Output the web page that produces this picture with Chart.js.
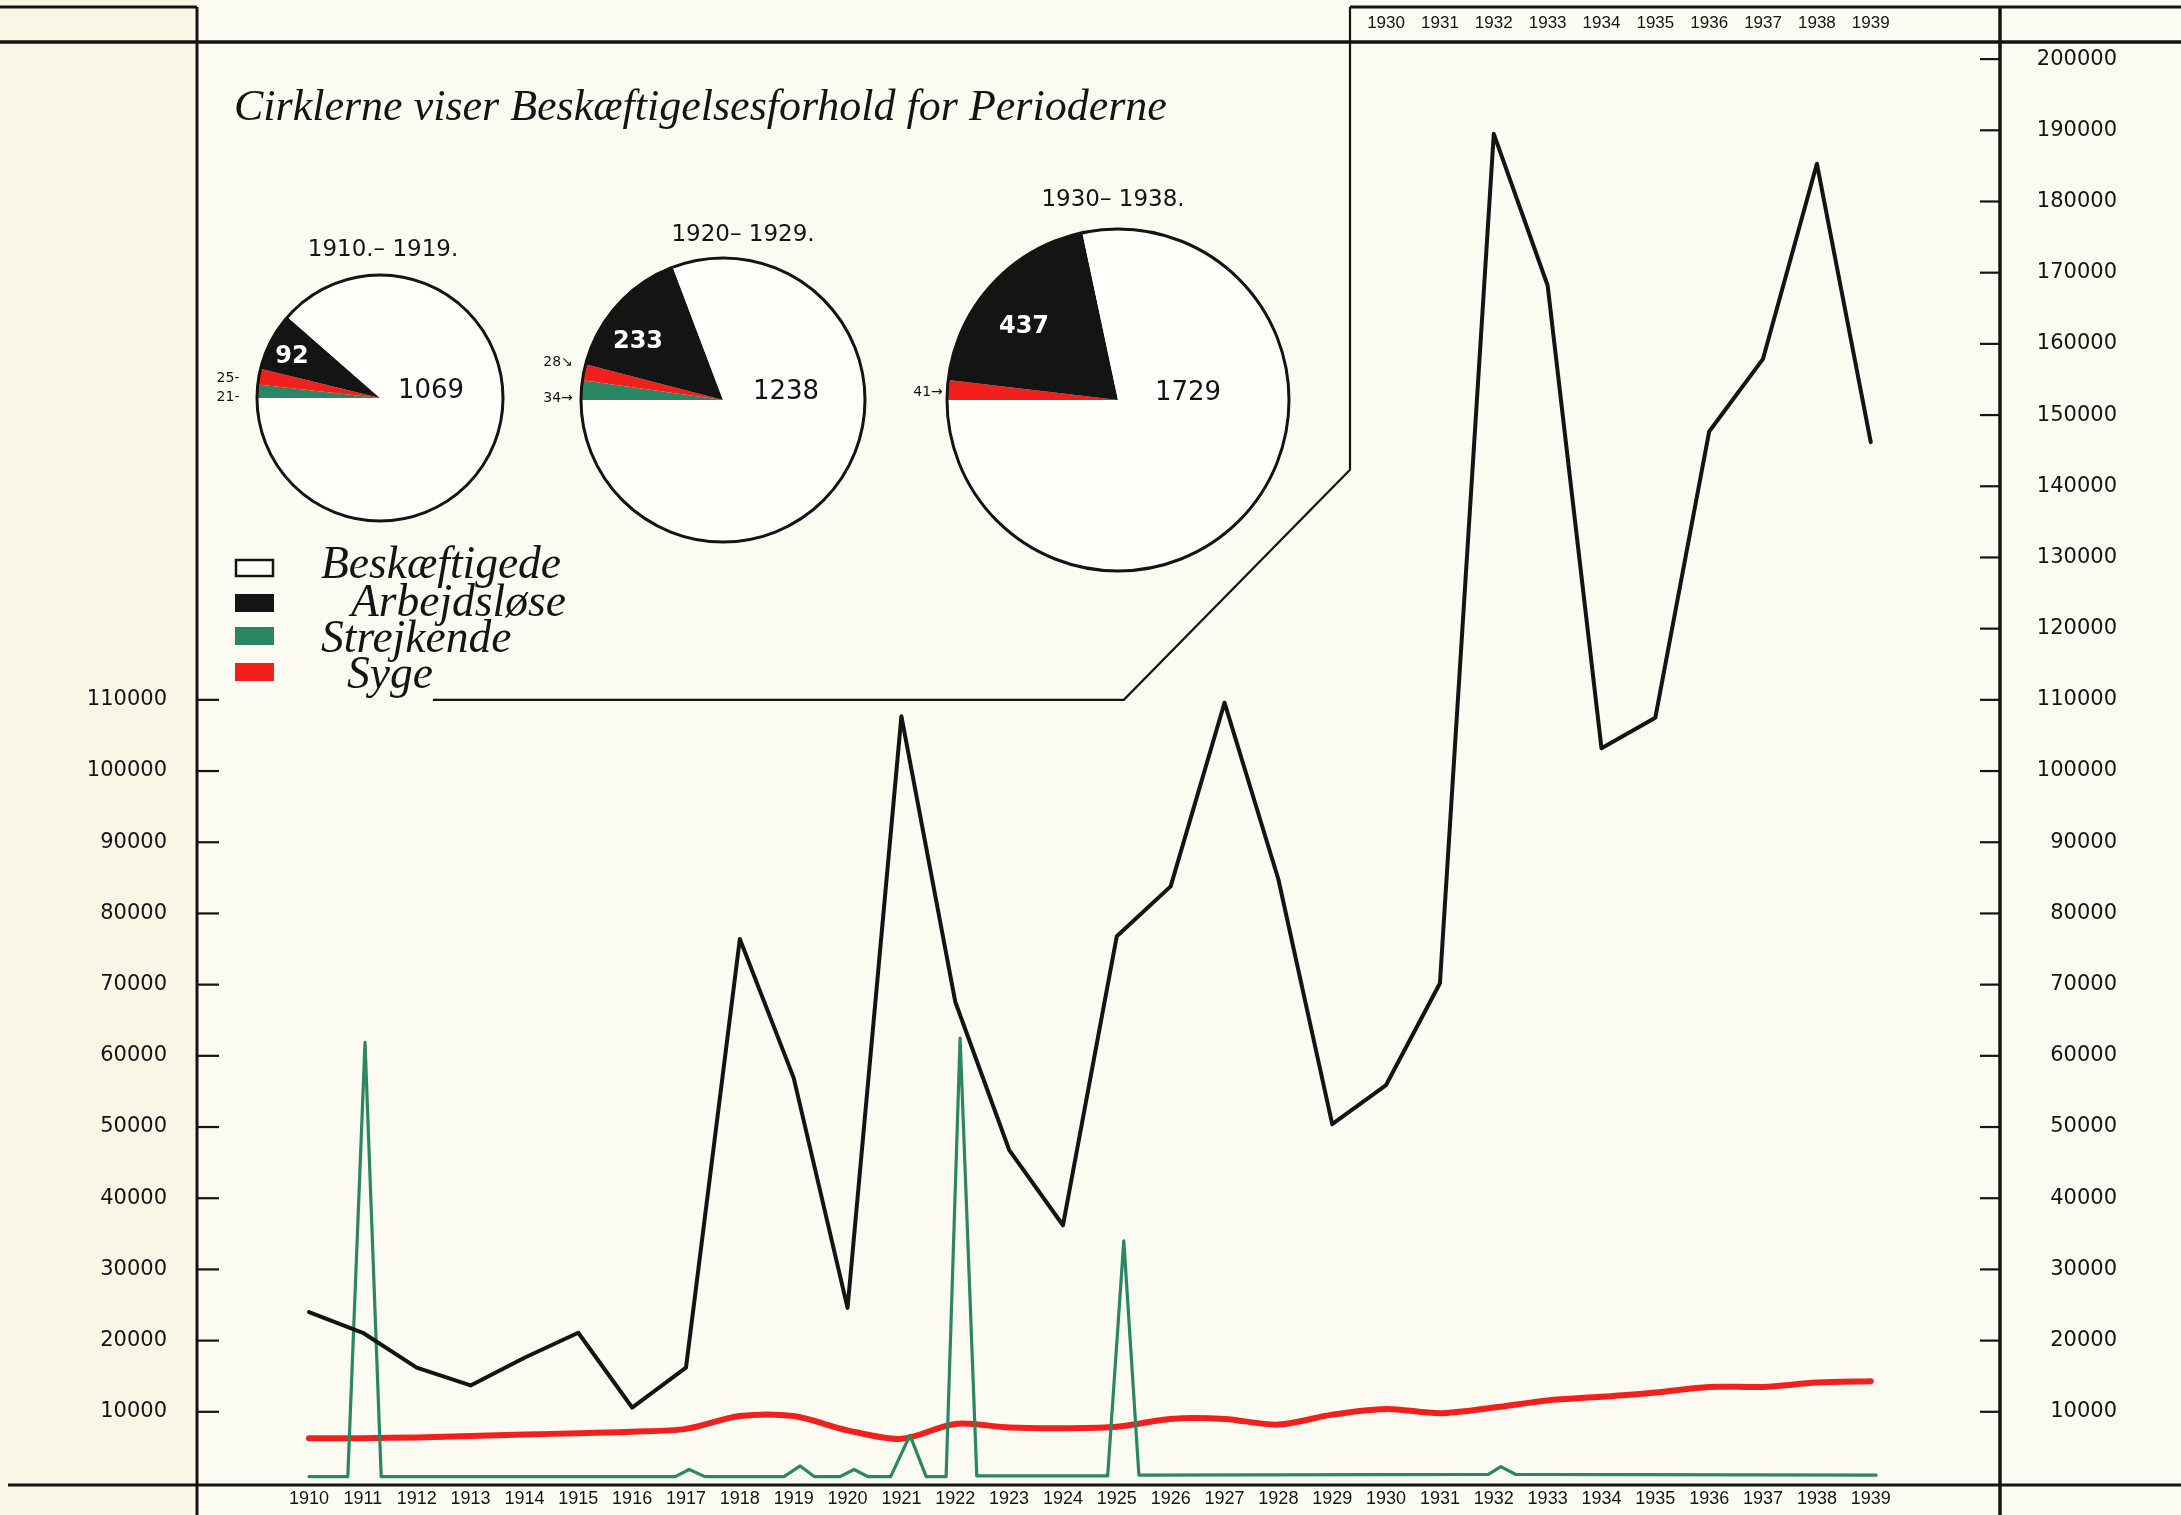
<!DOCTYPE html>
<html>
<head>
<meta charset="utf-8">
<script src="https://cdn.jsdelivr.net/npm/chart.js@4.4.1/dist/chart.umd.min.js"></script>
<style>
  html, body { margin: 0; padding: 0; background: #fcfbf1; }
  #wrap { position: relative; width: 2181px; height: 1515px; overflow: hidden; }
  #wrap canvas { position: absolute; }
</style>
</head>
<body>
<div id="wrap">
  <canvas id="main" width="2181" height="1515" style="left:0;top:0"></canvas>
  <canvas id="pie0"></canvas>
  <canvas id="pie1"></canvas>
  <canvas id="pie2"></canvas>
</div>
<script>
// yearly series
const years = [1910, 1911, 1912, 1913, 1914, 1915, 1916, 1917, 1918, 1919,
               1920, 1921, 1922, 1923, 1924, 1925, 1926, 1927, 1928, 1929,
               1930, 1931, 1932, 1933, 1934, 1935, 1936, 1937, 1938, 1939];
const arbejdslose = [24000, 21100, 16200, 13700, 17600, 21100, 10600, 16200, 76400, 56900,
                     24600, 107700, 67600, 46800, 36200, 76800, 83800, 109600, 84800, 50400,
                     55900, 70200, 189500, 168200, 103200, 107500, 147700, 157900, 185300, 146200];
const syge = [6300, 6300, 6400, 6600, 6800, 7000, 7200, 7600, 9400, 9400,
              7400, 6200, 8300, 7800, 7700, 7900, 9000, 9000, 8200, 9600,
              10400, 9800, 10600, 11600, 12100, 12700, 13500, 13500, 14100, 14300];

// strikers: flat line with narrow spikes, so it has its own x values
const strejkendeYears = [1910, 1910.72, 1911.04, 1911.34, 1916.8, 1917.06, 1917.35, 1918.82, 1919.12, 1919.38,
                         1919.86, 1920.12, 1920.38, 1920.8, 1921.16, 1921.46, 1921.83, 1922.09, 1922.4, 1924.83,
                         1925.13, 1925.41, 1931.9, 1932.13, 1932.41, 1939.1];
const strejkende = [900, 900, 61900, 900, 900, 1900, 900, 900, 2400, 900,
                    900, 1900, 900, 900, 6700, 900, 900, 62500, 1000, 1000,
                    34000, 1100, 1200, 2300, 1200, 1100];

const leftTicks = [10000, 20000, 30000, 40000, 50000, 60000, 70000, 80000, 90000, 100000, 110000];
const rightTicks = [10000, 20000, 30000, 40000, 50000, 60000, 70000, 80000, 90000, 100000,
                    110000, 120000, 130000, 140000, 150000, 160000, 170000, 180000, 190000, 200000];
const topYears = [1930, 1931, 1932, 1933, 1934, 1935, 1936, 1937, 1938, 1939];

// circles: totals per period
const periods = ['1910.– 1919.', '1920– 1929.', '1930– 1938.'];
const pieBeskaeftigede = [1069, 1238, 1729];
const pieArbejdslose = [92, 233, 437];
const pieSyge = [25, 28, 41];
const pieStrejkende = [21, 34, 0];

const legendLabels = ['Beskæftigede', 'Arbejdsløse', 'Strejkende', 'Syge'];
const title = 'Cirklerne viser Beskæftigelsesforhold for Perioderne';

const BLACK = '#141414', RED = '#f2201c', GREEN = '#2b8763';
const PAPER = '#fcfbf2', MARGIN = '#f9f6e6', WHITE = '#fffffc';
const SCRIPT = 'italic {s}px "Liberation Serif", "DejaVu Serif", serif';
const NUM = '"DejaVu Sans", sans-serif';

const xMin = 1907.92, xMax = 1941.4, yMax = 202400;

// fixed box sizes; drop the label overhang padding so the plot area lands exactly
const fixSize = (w, h) => scale => {
  if (w != null) scale.width = w;
  if (h != null) scale.height = h;
  scale.paddingTop = scale.paddingBottom = scale.paddingLeft = scale.paddingRight = 0;
};
const setTicks = vals => scale => { scale.ticks = vals.map(v => ({ value: v })); };
const plain = v => String(v);

function scriptFont(ctx, text, width) {
  ctx.font = SCRIPT.replace('{s}', 40);
  const s = 40 * width / ctx.measureText(text).width;
  return SCRIPT.replace('{s}', s.toFixed(1));
}

const paper = {
  id: 'paper',
  beforeDraw(chart) {
    const { ctx, chartArea: a } = chart;
    ctx.save();
    ctx.fillStyle = PAPER;
    ctx.fillRect(0, 0, chart.width, chart.height);
    ctx.fillStyle = MARGIN;
    ctx.fillRect(0, 0, a.left, chart.height);
    ctx.restore();
  }
};

const frame = {
  id: 'frame',
  afterDraw(chart) {
    const { ctx, chartArea: a, scales } = chart;
    const W = chart.width, H = chart.height;
    const xs = scales.x, ys = scales.y;
    ctx.save();
    ctx.strokeStyle = BLACK;
    const line = (pts, w) => {
      ctx.lineWidth = w;
      ctx.beginPath();
      pts.forEach(([x, y], i) => i ? ctx.lineTo(x, y) : ctx.moveTo(x, y));
      ctx.stroke();
    };
    const bx = xs.getPixelForValue(1929.33);
    const boxY = ys.getPixelForValue(110000);
    line([[0, 7], [a.left, 7]], 3);
    line([[bx, 7], [W, 7]], 3);
    line([[0, a.top], [W, a.top]], 3.5);
    line([[8, a.bottom + 2], [W, a.bottom + 2]], 3);
    line([[a.left, 7], [a.left, H]], 3);
    line([[a.right, 7], [a.right, H]], 3.5);
    line([[bx, 7], [bx, ys.getPixelForValue(142300)],
          [xs.getPixelForValue(1925.13), boxY],
          [xs.getPixelForValue(1912.3), boxY]], 2.2);

    // tick marks inside the frame
    scales.y.ticks.forEach(t => {
      const py = ys.getPixelForValue(t.value);
      line([[a.left, py], [a.left + 22, py]], 2.2);
    });
    scales.y2.ticks.forEach(t => {
      const py = scales.y2.getPixelForValue(t.value);
      line([[a.right - 20, py], [a.right, py]], 2.2);
    });

    // title
    ctx.fillStyle = BLACK;
    ctx.textBaseline = 'alphabetic';
    ctx.textAlign = 'left';
    ctx.font = scriptFont(ctx, title, 932);
    ctx.fillText(title, 234, 120);

    // period headings
    ctx.font = '23px ' + NUM;
    ctx.textAlign = 'center';
    ctx.textBaseline = 'middle';
    [[383, 250], [743, 235], [1113, 200]].forEach(([x, y], i) => ctx.fillText(periods[i], x, y));

    // legend
    const boxes = [[559, WHITE], [594, BLACK], [627, GREEN], [663, RED]];
    const textPos = [[321, 566], [351, 604], [321, 640], [347, 676]];
    boxes.forEach(([y, c]) => {
      ctx.fillStyle = c;
      ctx.fillRect(235, y, 39, 18);
      if (c === WHITE) { ctx.lineWidth = 2.5; ctx.strokeRect(236, y + 1, 37, 16); }
    });
    ctx.fillStyle = BLACK;
    ctx.textAlign = 'left';
    ctx.textBaseline = 'middle';
    ctx.font = scriptFont(ctx, legendLabels[0], 240);
    legendLabels.forEach((t, i) => ctx.fillText(t, textPos[i][0], textPos[i][1]));
    ctx.restore();
  }
};

const tickFont = { family: NUM, size: 21 };
const yearFont = { family: '"Liberation Sans", sans-serif', size: 18 };

new Chart(document.getElementById('main'), {
  type: 'line',
  data: {
    datasets: [
      { label: 'Arbejdsløse', data: years.map((x, i) => ({ x, y: arbejdslose[i] })),
        borderColor: BLACK, borderWidth: 4, order: 1, tension: 0 },
      { label: 'Strejkende', data: strejkendeYears.map((x, i) => ({ x, y: strejkende[i] })),
        borderColor: GREEN, borderWidth: 3.2, order: 2, tension: 0 },
      { label: 'Syge', data: years.map((x, i) => ({ x, y: syge[i] })),
        borderColor: RED, borderWidth: 6, order: 3, tension: 0.3 }
    ]
  },
  options: {
    responsive: false,
    animation: false,
    devicePixelRatio: 1,
    events: [],
    layout: { padding: { top: 0, left: 0, bottom: 0, right: 64 } },
    elements: { point: { radius: 0 }, line: { borderJoinStyle: 'round', borderCapStyle: 'round' } },
    plugins: { legend: { display: false }, tooltip: { enabled: false } },
    scales: {
      x: {
        type: 'linear', position: 'bottom', min: xMin, max: xMax,
        grid: { display: false, drawTicks: false }, border: { display: false },
        afterFit: fixSize(null, 32), afterBuildTicks: setTicks(years),
        ticks: { callback: plain, font: yearFont, color: BLACK, padding: 5, autoSkip: false, maxRotation: 0 }
      },
      x2: {
        type: 'linear', position: 'top', min: xMin, max: xMax,
        grid: { display: false, drawTicks: false }, border: { display: false },
        afterFit: fixSize(null, 42), afterBuildTicks: setTicks(topYears),
        ticks: { callback: plain, font: { family: yearFont.family, size: 17 }, color: BLACK, padding: 8, autoSkip: false, maxRotation: 0 }
      },
      y: {
        position: 'left', min: 0, max: yMax,
        grid: { display: false, drawTicks: false }, border: { display: false },
        afterFit: fixSize(197), afterBuildTicks: setTicks(leftTicks),
        ticks: { callback: plain, font: tickFont, color: BLACK, padding: 30 }
      },
      y2: {
        position: 'right', min: 0, max: yMax,
        grid: { display: false, drawTicks: false }, border: { display: false },
        afterFit: fixSize(117), afterBuildTicks: setTicks(rightTicks),
        ticks: { callback: plain, font: tickFont, color: BLACK, crossAlign: 'far' }
      }
    }
  },
  plugins: [paper, frame]
});

// circles, one small chart each
const pieGeom = [{ cx: 380, cy: 398, r: 123 }, { cx: 723, cy: 400, r: 142 }, { cx: 1118, cy: 400, r: 171 }];
const pieText = [
  { dark: [-88, -41], light: [51, -7], syge: [-152, -20, '-'], strejk: [-152, -1, '-'] },
  { dark: [-85, -58], light: [63, -8], syge: [-165, -38, '↘'], strejk: [-165, -2, '→'] },
  { dark: [-94, -73], light: [70, -7], syge: [-190, -8, '→'], strejk: null }
];
const PAD = 70;

const pieDeco = {
  id: 'pieDeco',
  afterDatasetsDraw(chart) {
    const i = chart.options.pieIndex;
    const arc = chart.getDatasetMeta(0).data[0];
    const { ctx } = chart;
    const cx = arc.x, cy = arc.y;
    const t = pieText[i];
    ctx.save();
    ctx.strokeStyle = BLACK;
    ctx.lineWidth = 3;
    ctx.beginPath();
    ctx.arc(cx, cy, arc.outerRadius, 0, Math.PI * 2);
    ctx.stroke();
    ctx.textAlign = 'center';
    ctx.textBaseline = 'middle';
    ctx.fillStyle = '#ffffff';
    ctx.font = 'bold 24px ' + NUM;
    ctx.fillText(String(pieArbejdslose[i]), cx + t.dark[0], cy + t.dark[1]);
    ctx.fillStyle = BLACK;
    ctx.font = '26px ' + NUM;
    ctx.fillText(String(pieBeskaeftigede[i]), cx + t.light[0], cy + t.light[1]);
    ctx.font = '14px ' + NUM;
    ctx.fillText(pieSyge[i] + t.syge[2], cx + t.syge[0], cy + t.syge[1]);
    if (t.strejk) ctx.fillText(pieStrejkende[i] + t.strejk[2], cx + t.strejk[0], cy + t.strejk[1]);
    ctx.restore();
  }
};

pieGeom.forEach((g, i) => {
  const cv = document.getElementById('pie' + i);
  const size = 2 * (g.r + PAD);
  cv.width = size; cv.height = size;
  cv.style.left = (g.cx - g.r - PAD) + 'px';
  cv.style.top = (g.cy - g.r - PAD) + 'px';
  new Chart(cv, {
    type: 'pie',
    data: {
      labels: ['Strejkende', 'Syge', 'Arbejdsløse', 'Beskæftigede'],
      datasets: [{
        data: [pieStrejkende[i], pieSyge[i], pieArbejdslose[i], pieBeskaeftigede[i]],
        backgroundColor: [GREEN, RED, BLACK, WHITE],
        borderWidth: 0
      }]
    },
    options: {
      pieIndex: i,
      responsive: false,
      animation: false,
      devicePixelRatio: 1,
      events: [],
      radius: g.r,
      rotation: -90,
      layout: { padding: PAD },
      plugins: { legend: { display: false }, tooltip: { enabled: false } }
    },
    plugins: [pieDeco]
  });
});
</script>
</body>
</html>
